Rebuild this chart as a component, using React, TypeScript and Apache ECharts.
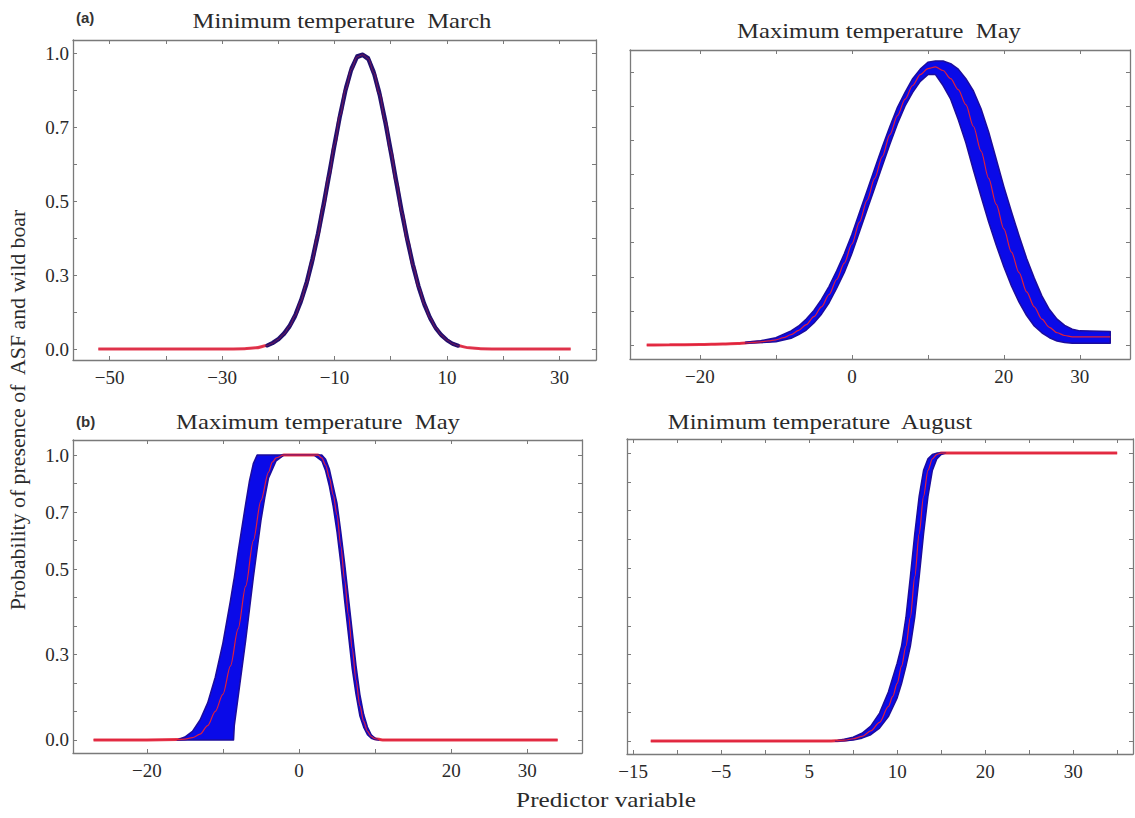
import React, { useEffect, useRef } from "react";
import * as echarts from "echarts";

// ---------- Panel A: Minimum temperature March ----------
const aX = [-52, -40, -30, -26, -24, -22, -21, -20, -19, -18, -17, -16, -15, -14, -13, -12, -11, -10, -9, -8, -7, -6, -5, -4, -3, -2, -1, 0, 1, 2, 3, 4, 5, 6, 7, 8, 9, 10, 11, 12, 14, 16, 20, 32];
const aRed = [0, 0, 0, 0.001, 0.004, 0.012, 0.02, 0.033, 0.051, 0.077, 0.113, 0.161, 0.221, 0.296, 0.383, 0.481, 0.585, 0.691, 0.791, 0.879, 0.946, 0.988, 0.995, 0.982, 0.934, 0.863, 0.772, 0.67, 0.564, 0.46, 0.365, 0.28, 0.208, 0.15, 0.105, 0.071, 0.047, 0.03, 0.018, 0.011, 0.004, 0.001, 0, 0];
const aBandX = [-22, -21, -20, -19, -18, -17, -16, -15, -14, -13, -12, -11, -10, -9, -8, -7, -6, -5, -4, -3, -2, -1, 0, 1, 2, 3, 4, 5, 6, 7, 8, 9, 10, 11, 12];
const aBandLo = [0.011, 0.019, 0.031, 0.049, 0.074, 0.109, 0.156, 0.215, 0.288, 0.375, 0.472, 0.576, 0.683, 0.784, 0.873, 0.942, 0.985, 0.993, 0.979, 0.929, 0.856, 0.764, 0.661, 0.556, 0.452, 0.358, 0.274, 0.203, 0.146, 0.102, 0.069, 0.045, 0.029, 0.017, 0.01];
const aBandHi = [0.013, 0.022, 0.035, 0.054, 0.08, 0.117, 0.166, 0.227, 0.304, 0.391, 0.49, 0.594, 0.699, 0.798, 0.885, 0.95, 0.991, 0.997, 0.985, 0.939, 0.87, 0.78, 0.679, 0.572, 0.468, 0.372, 0.286, 0.213, 0.154, 0.108, 0.073, 0.049, 0.031, 0.019, 0.012];

// ---------- Panel B: Maximum temperature May (top right) ----------
const bX = [-27, -24, -20, -17, -15, -14, -13, -12, -11, -10, -9, -8, -7, -6, -5, -4, -3, -2, -1, 0, 1, 2, 3, 4, 5, 6, 7, 8, 9, 10, 11, 12, 13, 14, 15, 16, 17, 18, 19, 20, 21, 22, 23, 24, 25, 26, 27, 28, 29, 34];
const bRed = [0, 0.001, 0.002, 0.004, 0.006, 0.008, 0.01, 0.012, 0.015, 0.019, 0.027, 0.038, 0.054, 0.075, 0.104, 0.14, 0.185, 0.24, 0.3, 0.37, 0.45, 0.53, 0.61, 0.69, 0.77, 0.84, 0.9, 0.95, 0.99, 1.012, 1.018, 1.005, 0.975, 0.935, 0.88, 0.8, 0.71, 0.61, 0.515, 0.425, 0.34, 0.265, 0.195, 0.14, 0.095, 0.065, 0.045, 0.035, 0.03, 0.03];
const bBandX = [-14, -12, -10, -8, -7, -6, -5, -4, -3, -2, -1, 0, 1, 2, 3, 4, 5, 6, 7, 8, 9, 10, 11, 12, 13, 14, 15, 16, 17, 18, 19, 20, 21, 22, 23, 24, 25, 26, 27, 28, 29, 30, 34];
const bBandHi = [0.01, 0.016, 0.027, 0.052, 0.07, 0.095, 0.127, 0.167, 0.215, 0.272, 0.334, 0.405, 0.485, 0.565, 0.645, 0.725, 0.8, 0.87, 0.925, 0.975, 1.01, 1.035, 1.04, 1.04, 1.03, 1.01, 0.975, 0.93, 0.865, 0.78, 0.68, 0.58, 0.488, 0.4, 0.317, 0.245, 0.18, 0.13, 0.095, 0.072, 0.058, 0.052, 0.05];
const bBandLo = [0.007, 0.009, 0.012, 0.025, 0.038, 0.055, 0.081, 0.113, 0.155, 0.208, 0.266, 0.335, 0.415, 0.495, 0.575, 0.655, 0.735, 0.81, 0.875, 0.925, 0.965, 0.99, 0.99, 0.95, 0.9, 0.825, 0.74, 0.64, 0.544, 0.45, 0.365, 0.287, 0.216, 0.157, 0.108, 0.07, 0.045, 0.027, 0.015, 0.009, 0.007, 0.007, 0.007];

// ---------- Panel C: Maximum temperature May (bottom left) ----------
const cX = [-27, -20, -16, -15, -14, -13, -12, -11, -10, -9, -8, -7, -6, -5, -4, -3.5, -3, -2, 0, 2, 2.5, 3, 3.5, 4, 4.5, 5, 5.5, 6, 6.5, 7, 7.5, 8, 8.5, 9, 9.5, 10, 11, 34];
const cRed = [0, 0, 0.001, 0.003, 0.008, 0.02, 0.05, 0.1, 0.16, 0.26, 0.39, 0.54, 0.7, 0.84, 0.94, 0.975, 0.99, 1.0, 1.0, 1.0, 1.0, 0.99, 0.965, 0.92, 0.86, 0.79, 0.68, 0.56, 0.44, 0.32, 0.21, 0.12, 0.065, 0.03, 0.012, 0.004, 0, 0];
const cBandX = [-16, -15, -14, -13, -12, -11, -10, -9, -8.6, -8.5, -8, -7.5, -7, -6.5, -6, -5.5, -5, -4.5, -4, -3, -2, 0, 2, 3, 3.5, 4, 4.5, 5, 5.5, 6, 6.5, 7, 7.5, 8, 8.5, 9, 9.5, 10, 10.5];
const cBandHi = [0, 0.01, 0.03, 0.07, 0.13, 0.22, 0.34, 0.49, 0.555, 0.57, 0.66, 0.745, 0.83, 0.91, 0.97, 1.0, 1.0, 1.0, 1.0, 1.0, 1.0, 1.0, 1.0, 1.0, 0.985, 0.95, 0.89, 0.83, 0.73, 0.62, 0.5, 0.38, 0.26, 0.16, 0.09, 0.045, 0.018, 0.006, 0];
const cBandLo = [0, 0, 0, 0, 0, 0, 0, 0, 0, 0.05, 0.15, 0.25, 0.35, 0.46, 0.57, 0.67, 0.77, 0.85, 0.92, 0.98, 1.0, 1.0, 1.0, 0.98, 0.945, 0.89, 0.82, 0.73, 0.62, 0.49, 0.37, 0.25, 0.16, 0.085, 0.045, 0.018, 0.006, 0.001, 0];

// ---------- Panel D: Minimum temperature August ----------
const dX = [-13, 0, 7, 8, 9, 10, 11, 12, 13, 14, 14.5, 15, 15.5, 16, 16.5, 17, 17.5, 18, 18.5, 19, 19.5, 20, 25, 40];
const dRed = [0, 0, 0, 0.001, 0.003, 0.008, 0.016, 0.035, 0.065, 0.12, 0.155, 0.2, 0.26, 0.33, 0.43, 0.57, 0.72, 0.85, 0.94, 0.98, 0.995, 1.0, 1.0, 1.0];
const dBandX = [8, 9, 10, 11, 12, 13, 14, 15, 15.5, 16, 16.5, 17, 17.5, 18, 18.5, 19, 19.5, 20, 20.5];
const dBandHi = [0, 0.006, 0.013, 0.027, 0.052, 0.097, 0.17, 0.27, 0.33, 0.43, 0.57, 0.72, 0.85, 0.94, 0.98, 0.995, 1.0, 1.0, 1.0];
const dBandLo = [0, 0.001, 0.004, 0.01, 0.022, 0.045, 0.085, 0.15, 0.2, 0.26, 0.33, 0.43, 0.57, 0.72, 0.85, 0.94, 0.98, 0.995, 1.0];

// ---------- Ticks & labels ----------
const aXTicks = [-50, -40, -30, -20, -10, 0, 10, 20, 30];
const aXLabelVals = [-50, -30, -10, 10, 30];
const aXLabelTexts = ["\u221250", "\u221230", "\u221210", "10", "30"];
const bXTicks = [-20, -10, 0, 10, 20, 30];
const bXLabelVals = [-20, 0, 20, 30];
const bXLabelTexts = ["\u221220", "0", "20", "30"];
const cXTicks = [-20, -10, 0, 10, 20, 30];
const cXLabelVals = [-20, 0, 20, 30];
const cXLabelTexts = ["\u221220", "0", "20", "30"];
const dXTicks = [-15, -10, -5, 0, 5, 10, 15, 20, 25, 30, 35, 40];
const dXLabelVals = [-15, -5, 5, 15, 25, 35];
const dXLabelTexts = ["\u221215", "\u22125", "5", "10", "20", "30"];

const topYTicks = [0, 0.125, 0.25, 0.375, 0.5, 0.625, 0.75, 0.875, 1];
const topYLabelVals = [0, 0.25, 0.5, 0.75, 1];
const botYTicks = [0, 0.1, 0.2, 0.3, 0.4, 0.5, 0.6, 0.7, 0.8, 0.9, 1];
const botYLabelVals = [0, 0.3, 0.6, 0.8, 1];
const yLabelTexts = ["0.0", "0.3", "0.5", "0.7", "1.0"];

const titles = ["Minimum temperature  March", "Maximum temperature  May", "Maximum temperature  May", "Minimum temperature  August"];
const yTitle = "Probability of presence of  ASF and wild boar";
const xTitle = "Predictor variable";

const FONT = "Liberation Serif, serif";
const SANS = "Liberation Sans, sans-serif";
const AXIS_COLOR = "#7a7a7a";
const TEXT_COLOR = "#2a2a2a";

const zip = (xs: number[], ys: number[]) => xs.map((x, i) => [x, ys[i]]);

const grids = [
  { left: 73, top: 40, width: 523, height: 320 },
  { left: 630, top: 50, width: 500, height: 309 },
  { left: 73, top: 440, width: 509, height: 313 },
  { left: 627, top: 439, width: 506, height: 315 },
];
const xRanges = [
  [-56.5, 36.5],
  [-29.2, 36.6],
  [-29.7, 37.2],
  [-15.7, 41.8],
];
const yRanges = [
  [-0.037, 1.045],
  [-0.051, 1.08],
  [-0.046, 1.053],
  [-0.045, 1.049],
];

function mapLabel(vals: number[], texts: string[]) {
  return (v: number) => {
    for (let i = 0; i < vals.length; i++) if (Math.abs(vals[i] - v) < 1e-6) return texts[i];
    return "";
  };
}

function bandSeries(xs: number[], lo: number[], hi: number[], idx: number, fill: string, stroke: string, lw: number) {
  return {
    type: "custom",
    xAxisIndex: idx,
    yAxisIndex: idx,
    data: [[0, 0]],
    z: 3,
    silent: true,
    renderItem: (_p: any, api: any) => {
      const pts: number[][] = [];
      for (let i = 0; i < xs.length; i++) pts.push(api.coord([xs[i], hi[i]]));
      for (let i = xs.length - 1; i >= 0; i--) pts.push(api.coord([xs[i], lo[i]]));
      return {
        type: "polygon",
        shape: { points: pts },
        style: { fill, stroke, lineWidth: lw, lineJoin: "round" },
      };
    },
  };
}

function lineSeries(xs: number[], ys: number[], idx: number, color: string, width: number, z: number) {
  return {
    type: "line",
    xAxisIndex: idx,
    yAxisIndex: idx,
    data: zip(xs, ys),
    showSymbol: false,
    symbol: "none",
    smooth: 0.3,
    smoothMonotone: "x",
    silent: true,
    z,
    lineStyle: { color, width },
  };
}

export default function App() {
  const ref = useRef<HTMLDivElement>(null);
  useEffect(() => {
    if (!ref.current) return;
    const chart = echarts.init(ref.current, null, { renderer: "svg" });

    const xTicks = [aXTicks, bXTicks, cXTicks, dXTicks];
    const xLabVals = [aXLabelVals, bXLabelVals, cXLabelVals, dXLabelVals];
    const xLabTexts = [aXLabelTexts, bXLabelTexts, cXLabelTexts, dXLabelTexts];
    const yTicks = [topYTicks, topYTicks, botYTicks, botYTicks];
    const yLabVals = [topYLabelVals, topYLabelVals, botYLabelVals, botYLabelVals];

    const axisLine = { show: true, onZero: false, lineStyle: { color: AXIS_COLOR, width: 1.3 } };
    const labelStyle = { fontFamily: FONT, fontSize: 19, color: TEXT_COLOR };

    const xAxes: any[] = [];
    const yAxes: any[] = [];
    for (let i = 0; i < 4; i++) {
      xAxes.push({
        type: "value",
        gridIndex: i,
        position: "bottom",
        min: xRanges[i][0],
        max: xRanges[i][1],
        axisLine,
        splitLine: { show: false },
        axisTick: { show: true, inside: true, length: 4, customValues: xTicks[i], lineStyle: { color: AXIS_COLOR } },
        axisLabel: { ...labelStyle, margin: 8, customValues: xLabVals[i], formatter: mapLabel(xLabVals[i], xLabTexts[i]) },
      });
      yAxes.push({
        type: "value",
        gridIndex: i,
        position: "left",
        min: yRanges[i][0],
        max: yRanges[i][1],
        axisLine,
        splitLine: { show: false },
        axisTick: { show: true, inside: true, length: 4, customValues: yTicks[i], lineStyle: { color: AXIS_COLOR } },
        axisLabel: {
          ...labelStyle,
          show: i === 0 || i === 2,
          margin: 4,
          customValues: yLabVals[i],
          formatter: mapLabel(yLabVals[i], yLabelTexts),
        },
      });
    }
    for (let i = 0; i < 4; i++) {
      xAxes.push({
        type: "value",
        gridIndex: i,
        position: "top",
        min: xRanges[i][0],
        max: xRanges[i][1],
        axisLine,
        splitLine: { show: false },
        axisTick: { show: true, inside: true, length: 4, customValues: xTicks[i], lineStyle: { color: AXIS_COLOR } },
        axisLabel: { show: false },
      });
      yAxes.push({
        type: "value",
        gridIndex: i,
        position: "right",
        min: yRanges[i][0],
        max: yRanges[i][1],
        axisLine,
        splitLine: { show: false },
        axisTick: { show: true, inside: true, length: 4, customValues: yTicks[i], lineStyle: { color: AXIS_COLOR } },
        axisLabel: { show: false },
      });
    }

    const RED_THICK = "#e63a4e";
    const RED_THIN = "#e0203a";
    const BLUE = "#0a0ae8";
    const BLUE_EDGE = "#1c0c9c";

    const series: any[] = [
      lineSeries(aX, aRed, 0, RED_THICK, 3, 2),
      bandSeries(aBandX, aBandLo, aBandHi, 0, "#22106e", "#22106e", 3.5),
      lineSeries(aX, aRed, 0, "rgba(200,30,70,0.5)", 1, 4),

      lineSeries(bX, bRed, 1, RED_THICK, 3, 2),
      bandSeries(bBandX, bBandLo, bBandHi, 1, BLUE, BLUE_EDGE, 1.5),
      lineSeries(bX, bRed, 1, RED_THIN, 1.2, 4),

      lineSeries(cX, cRed, 2, RED_THICK, 3, 2),
      bandSeries(cBandX, cBandLo, cBandHi, 2, BLUE, BLUE_EDGE, 1.5),
      lineSeries(cX, cRed, 2, RED_THIN, 1.2, 4),

      lineSeries(dX, dRed, 3, RED_THICK, 3, 2),
      bandSeries(dBandX, dBandLo, dBandHi, 3, BLUE, BLUE_EDGE, 1.5),
      lineSeries(dX, dRed, 3, RED_THIN, 1.2, 4),
    ];

    const titlePos = [
      [342, 20],
      [879, 30],
      [318, 421],
      [820, 421],
    ];

    const graphic: any[] = titles.map((t, i) => ({
      type: "text",
      x: titlePos[i][0],
      y: titlePos[i][1],
      scaleX: 1.12,
      style: { text: t, fontFamily: FONT, fontSize: 22, fill: TEXT_COLOR, align: "center", verticalAlign: "middle" },
    }));
    graphic.push(
      {
        type: "text",
        x: 76,
        y: 17,
        style: { text: "(a)", fontFamily: SANS, fontWeight: "bold", fontSize: 15, fill: "#333", verticalAlign: "middle" },
      },
      {
        type: "text",
        x: 76,
        y: 421,
        style: { text: "(b)", fontFamily: SANS, fontWeight: "bold", fontSize: 15, fill: "#333", verticalAlign: "middle" },
      },
      {
        type: "text",
        x: 18,
        y: 410,
        rotation: Math.PI / 2,
        scaleX: 1.09,
        style: { text: yTitle, fontFamily: FONT, fontSize: 20, fill: TEXT_COLOR, align: "center", verticalAlign: "middle" },
      },
      {
        type: "text",
        x: 606,
        y: 800,
        scaleX: 1.2,
        style: { text: xTitle, fontFamily: FONT, fontSize: 21, fill: TEXT_COLOR, align: "center", verticalAlign: "middle" },
      }
    );

    chart.setOption({
      animation: false,
      backgroundColor: "#ffffff",
      textStyle: { fontFamily: FONT },
      grid: grids,
      xAxis: xAxes,
      yAxis: yAxes,
      series,
      graphic,
    });
    return () => chart.dispose();
  }, []);

  return (
    <div
      ref={ref}
      style={{ position: "fixed", left: 0, top: 0, width: 1135, height: 818, background: "#fff" }}
    />
  );
}
